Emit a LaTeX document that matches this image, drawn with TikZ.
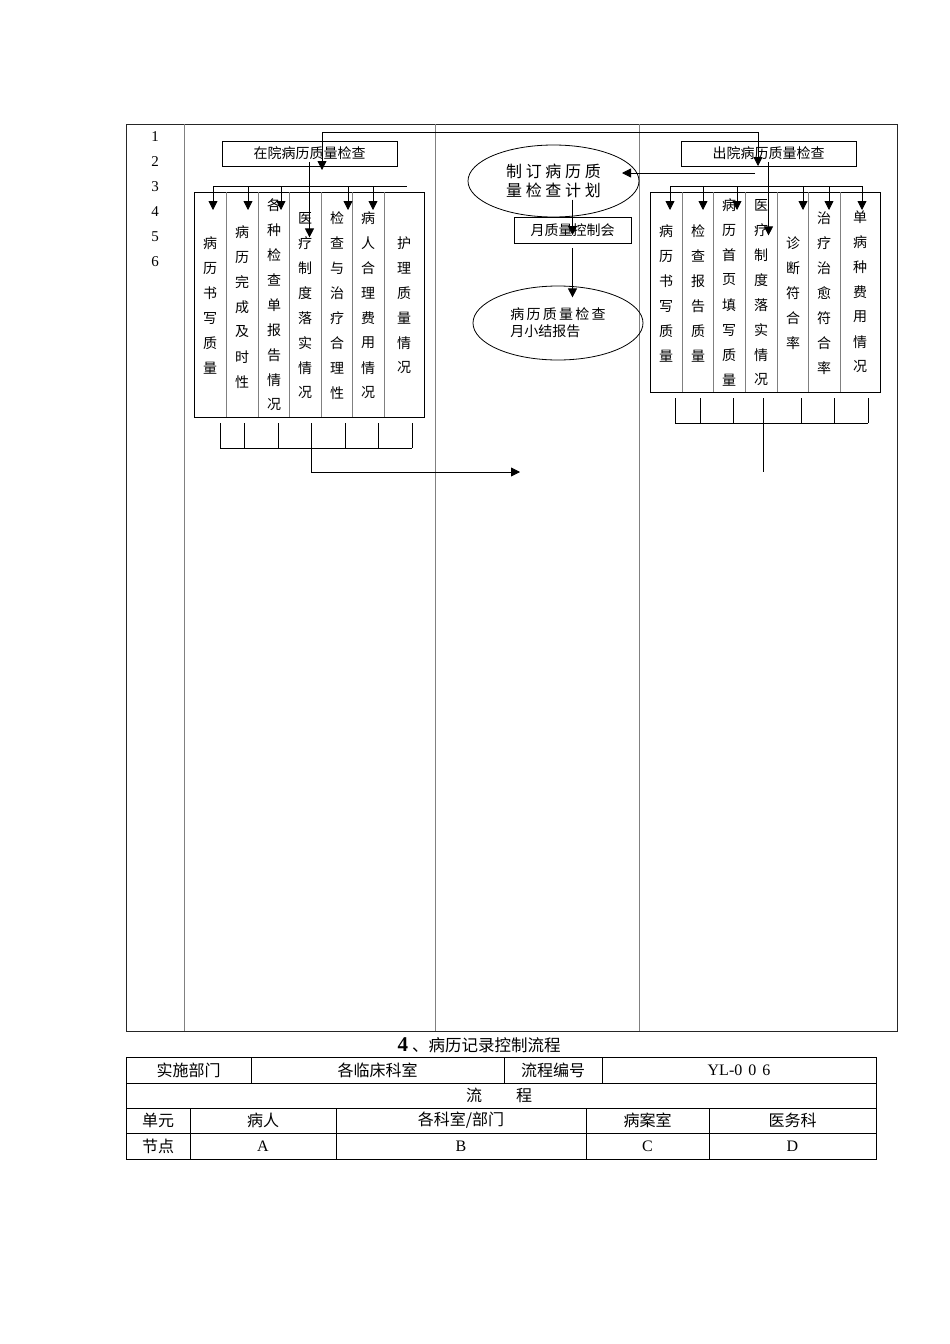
\documentclass[tikz,border=0pt]{standalone}
\usepackage{fontspec}
\setmainfont{Liberation Serif}
\newfontfamily\cjk{Noto Sans CJK SC}
\usetikzlibrary{positioning,arrows.meta,shapes.geometric}

\tikzset{
  frame/.style={draw=black!85, line width=0.8pt},
  lane/.style={draw=black!50, line width=0.8pt},
  cell/.style={draw=black!50, line width=0.8pt},
  ln/.style={line width=0.8pt},
  arr/.style={->, line width=0.8pt},
  num/.style={font=\fontsize{15}{18}\selectfont, inner sep=0pt},
  chr/.style={font=\cjk\fontsize{14}{16}\selectfont, inner sep=0pt},
  titlebox/.style={draw, line width=0.8pt, font=\cjk\fontsize{14}{16}\selectfont,
    minimum width=175pt, minimum height=25pt, inner sep=0pt},
  grp/.style={draw, line width=0.8pt, minimum width=230pt, inner sep=0pt},
  tab/.style={draw=black, line width=0.8pt},
  tcell/.style={font=\cjk\fontsize{16}{18}\selectfont, inner sep=0pt},
  tlat/.style={font=\fontsize{16}{18}\selectfont, inner sep=0pt},
}

% one column of characters, one under the other
\newcommand{\colstack}[4]{%
  \foreach \c [count=\i from 0] in {#4}
    {\node[chr] (#1\i) at (#2,#3+25*\i) {\c};}}

\begin{document}
\begin{tikzpicture}[x=1pt, y=-1pt, >={Triangle[length=9pt,width=9pt]}]
  \useasboundingbox (0,0) rectangle (950,1344);

  % frame and lanes
  \draw[frame] (126,124) rectangle (897,1031);
  \foreach \lx in {184,435,639}
    \draw[lane] (\lx,124) -- (\lx,1031);

  % step numbers
  \foreach \k in {1,...,6}
    \node[num] (n\k) at (155,112+25*\k) {\k};

  % in-hospital check
  \node[titlebox] (inbox) at (309.5,153.5) {在院病历质量检查};
  \node[grp, minimum height=225pt, anchor=north west] (lgrp) at (194,192) {};
  \foreach \dx in {226,258,289,321,352,384}
    \draw[cell] (\dx,192) -- (\dx,417);
  \colstack{la}{210}{243}{病,历,书,写,质,量}
  \colstack{lb}{242}{232}{病,历,完,成,及,时,性}
  \colstack{lc}{274}{205}{各,种,检,查,单,报,告,情,况}
  \colstack{ld}{305}{218}{医,疗,制,度,落,实,情,况}
  \colstack{le}{337}{218}{检,查,与,治,疗,合,理,性}
  \colstack{lf}{368}{218}{病,人,合,理,费,用,情,况}
  \colstack{lg}{404}{243}{护,理,质,量,情,况}

  % discharge check
  \node[titlebox] (outbox) at (768.5,153.5) {出院病历质量检查};
  \node[grp, minimum height=200pt, anchor=north west] (rgrp) at (650,192) {};
  \foreach \dx in {682,713,745,777,808,840}
    \draw[cell] (\dx,192) -- (\dx,392);
  \colstack{ra}{666}{231}{病,历,书,写,质,量}
  \colstack{rb}{698}{231}{检,查,报,告,质,量}
  \colstack{rc}{729}{205}{病,历,首,页,填,写,质,量}
  \colstack{rd}{761}{205}{医,疗,制,度,落,实,情,况}
  \colstack{re}{793}{243}{诊,断,符,合,率}
  \colstack{rf}{824}{218}{治,疗,治,愈,符,合,率}
  \colstack{rg}{860}{217}{单,病,种,费,用,情,况}

  % middle lane
  \node[ellipse, draw, line width=0.8pt, minimum width=171pt, minimum height=72pt,
    inner sep=0pt, align=left,
    font=\cjk\fontsize{16}{19}\selectfont\addfontfeature{LetterSpace=23}]
    (plan) at (553.5,181) {制订病历质\\量检查计划};
  \node[draw, line width=0.8pt, minimum width=117pt, minimum height=26pt, inner sep=0pt,
    font=\cjk\fontsize{14}{16}\selectfont] (meeting) at (572.5,230) {月质量控制会};
  \node[ellipse, draw, line width=0.8pt, minimum width=170pt, minimum height=74pt,
    inner sep=0pt, align=left, font=\cjk\fontsize{14}{17}\selectfont]
    (report) at (558,323) {{\addfontfeature{LetterSpace=16}病历质量检查}\\月小结报告};

  \coordinate (loopR) at (758,132);
  \coordinate (back) at (755,173);

  % connectors
  \draw[ln, <->] (322,170) |- (loopR) -- (758,166);
  \draw[arr] (back) -- ++(-133,0);
  \draw[arr] ([yshift=4pt]inbox.south) -- ++(0,75);
  \draw[arr] ([yshift=4pt]outbox.south) -- ++(0,73);
  \draw[arr] ([yshift=17pt]meeting.north) -- ([yshift=-5pt]meeting.center);
  \draw[arr] ([yshift=-5pt]meeting.south) -- ++(0,49);

  % fan-out arrows
  \draw[ln] (213,186) -- (407,186);
  \foreach \ax in {213,248,281,348,373}
    \draw[arr] (\ax,186) -- (\ax,210);
  \draw[ln] (670,186) -- (862,186);
  \foreach \ax in {670,703,737,803,829,862}
    \draw[arr] (\ax,186) -- (\ax,210);

  % collecting brackets
  \foreach \bx in {220,244,278,311,345,378,412}
    \draw[ln] (\bx,423) -- (\bx,448);
  \draw[ln] (220,448) -- (412,448);
  \draw[arr] (311,448) |- (520,472);
  \foreach \bx in {675,700,733,763,801,834,868}
    \draw[ln] (\bx,398) -- (\bx,423);
  \draw[ln] (675,423) -- (868,423);
  \draw[ln] (763,423) -- (763,472);

  % heading of the next table
  \node[inner sep=0pt] (ttl) at (479,1045)
    {{\bfseries\fontsize{21}{22}\selectfont 4}\hspace{4pt}{\cjk\fontsize{16.5}{18}\selectfont 、病历记录控制流程}};

  \draw[tab] (126,1057) rectangle (876,1159);
  \foreach \ty in {1083,1108,1133}
    \draw[tab] (126,\ty) -- (876,\ty);
  \foreach \tx in {251,504,602}
    \draw[tab] (\tx,1057) -- (\tx,1083);
  \foreach \tx in {190,336,586,709}
    \draw[tab] (\tx,1108) -- (\tx,1159);

  \node[tcell] (dept) at (188.5,1070) {实施部门};
  \node[tcell] (deptv) at (377.5,1070) {各临床科室};
  \node[tcell] (code) at (553,1070) {流程编号};
  \node[tlat] (codev) at (739,1070) {YL-0\hspace{6pt}0\hspace{6pt}6};
  \node[tcell] (flow) at (499,1095.5) {流\hspace{34pt}程};
  \node[tcell] (unit) at (158,1120.5) {单元};
  \node[tcell] (ua) at (263,1120.5) {病人};
  \node[tcell] (ub) at (461,1120.5) {各科室/部门};
  \node[tcell] (uc) at (647.5,1120.5) {病案室};
  \node[tcell] (ud) at (792.5,1120.5) {医务科};
  \node[tcell] (node) at (158,1146) {节点};
  \node[tlat] (na) at (263,1146) {A};
  \node[tlat] (nb) at (461,1146) {B};
  \node[tlat] (nc) at (647.5,1146) {C};
  \node[tlat] (nd) at (792.5,1146) {D};
\end{tikzpicture}
\end{document}
